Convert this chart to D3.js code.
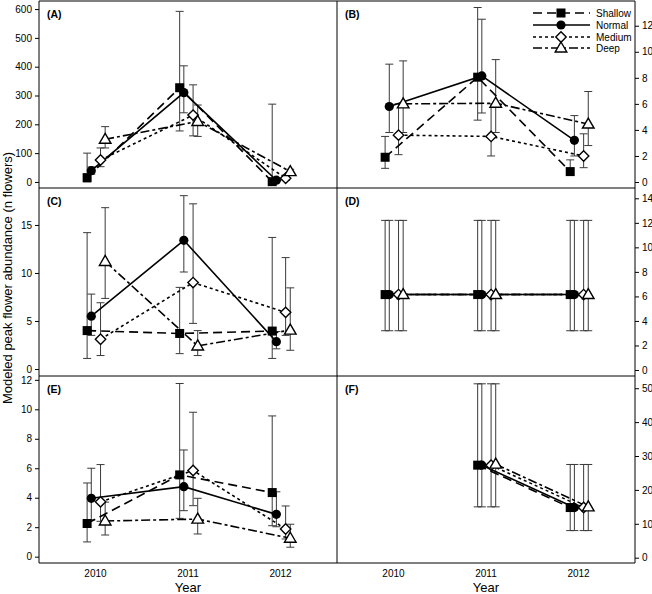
<!DOCTYPE html>
<html>
<head>
<meta charset="utf-8">
<script src="https://cdn.jsdelivr.net/npm/d3@7"></script>
<style>
  html, body { margin: 0; padding: 0; background: #fff; }
  text { font-family: "Liberation Sans", Arial, sans-serif; }
</style>
</head>
<body>
<script>
// ---------------- DATA ----------------
const years = [2010, 2011, 2012];
const seriesNames = ["Shallow", "Normal", "Medium", "Deep"];
const panelLabels = ["(A)", "(B)", "(C)", "(D)", "(E)", "(F)"];

// rows: Shallow, Normal, Medium, Deep ; columns: 2010, 2011, 2012
const aMean = [[15, 327, 1], [39, 310, 6], [76, 232, 13], [148, 210, 36]];
const aLow  = [[0, 177, 0], [27, 240, 2], [53, 160, 5], [118, 158, 26]];
const aHigh = [[100, 592, 270], [52, 403, 11], [118, 337, 24], [192, 267, 44]];

const bMean = [[1.9, 8.05, 0.8], [5.8, 8.15, 3.2], [3.6, 3.5, 2.0], [6.0, 6.05, 4.45]];
const bLow  = [[1.05, 4.75, 0.5], [3.8, 5.3, 2.0], [2.1, 2.0, 1.1], [3.8, 3.8, 2.8]];
const bHigh = [[3.5, 13.4, 1.7], [9.05, 12.5, 5.1], [6.0, 6.0, 3.7], [9.3, 9.4, 6.95]];

const cMean = [[4.0, 3.7, 3.95], [5.5, 13.4, 2.84], [3.1, 9.0, 5.9], [11.2, 2.4, 4.05]];
const cLow  = [[1.1, 1.6, 1.1], [3.5, 10.1, 2.1], [1.4, 4.75, 3.5], [7.35, 1.4, 1.95]];
const cHigh = [[14.2, 8.5, 13.7], [7.8, 18.05, 3.9], [6.9, 17.2, 11.6], [16.8, 4.0, 8.45]];

const dMean = [[6.15, 6.15, 6.15], [6.15, 6.15, 6.15], [6.15, 6.15, 6.15], [6.15, 6.15, 6.15]];
const dLow  = [[3.2, 3.2, 3.2], [3.2, 3.2, 3.2], [3.2, 3.2, 3.2], [3.2, 3.2, 3.2]];
const dHigh = [[12.2, 12.2, 12.2], [12.2, 12.2, 12.2], [12.2, 12.2, 12.2], [12.2, 12.2, 12.2]];

const eMean = [[2.25, 5.55, 4.35], [3.96, 4.75, 2.87], [3.72, 5.85, 1.88], [2.42, 2.55, 1.25]];
const eLow  = [[1.0, 2.6, 2.1], [2.5, 3.12, 2.03], [2.4, 3.46, 1.2], [1.47, 1.54, 0.64]];
const eHigh = [[5.0, 11.75, 9.55], [6.0, 7.24, 4.4], [6.25, 9.8, 3.44], [3.7, 3.96, 2.2]];

const fMean = [[null, 27.3, 14.8], [null, 27.3, 14.8], [null, 27.3, 14.8], [null, 27.6, 15.0]];
const fLow  = [[null, 15.0, 8.0], [null, 15.0, 8.0], [null, 15.0, 8.0], [null, 15.0, 8.0]];
const fHigh = [[null, 51.3, 27.5], [null, 51.3, 27.5], [null, 51.3, 27.5], [null, 51.3, 27.5]];

const aTicks = [0, 100, 200, 300, 400, 500, 600];
const bTicks = [0, 2, 4, 6, 8, 10, 12];
const cTicks = [0, 5, 10, 15];
const dTicks = [0, 2, 4, 6, 8, 10, 12, 14];
const eTicks = [0, 2, 4, 6, 8, 10, 12];
const fTicks = [0, 10, 20, 30, 40, 50];

// ---------------- LAYOUT ----------------
const W = 652, H = 594;
const colX = [[39, 337], [337, 635]];
const rowY = [[1, 188], [188, 376], [376, 563]];
const xDomain = [2009.39, 2012.61];
const offsets = [-0.09, -0.045, 0.055, 0.105];
const dashes = ["9,5", null, "3,3", "9,3,3,3"];

const panels = [
  { mean: aMean, low: aLow, high: aHigh, ticks: aTicks, dom: [-21, 628], col: 0, row: 0 },
  { mean: bMean, low: bLow, high: bHigh, ticks: bTicks, dom: [-0.46, 13.9], col: 1, row: 0 },
  { mean: cMean, low: cLow, high: cHigh, ticks: cTicks, dom: [-0.73, 18.85], col: 0, row: 1 },
  { mean: dMean, low: dLow, high: dHigh, ticks: dTicks, dom: [-0.49, 14.84], col: 1, row: 1 },
  { mean: eMean, low: eLow, high: eHigh, ticks: eTicks, dom: [-0.43, 12.26], col: 0, row: 2 },
  { mean: fMean, low: fLow, high: fHigh, ticks: fTicks, dom: [-1.56, 53.6], col: 1, row: 2 }
];

const svg = d3.select("body").append("svg").attr("width", W).attr("height", H);

function drawMarker(g, s, cx, cy) {
  if (s === 0) {
    g.append("rect").attr("x", cx - 4.5).attr("y", cy - 4.5).attr("width", 9).attr("height", 9)
      .attr("fill", "#000");
  } else if (s === 1) {
    g.append("circle").attr("cx", cx).attr("cy", cy).attr("r", 4.6).attr("fill", "#000");
  } else if (s === 2) {
    g.append("path").attr("d", `M${cx},${cy - 5.2}L${cx + 5.2},${cy}L${cx},${cy + 5.2}L${cx - 5.2},${cy}Z`)
      .attr("fill", "#fff").attr("stroke", "#000").attr("stroke-width", 1.4);
  } else {
    g.append("path").attr("d", `M${cx},${cy - 6}L${cx + 5.8},${cy + 4}L${cx - 5.8},${cy + 4}Z`)
      .attr("fill", "#fff").attr("stroke", "#000").attr("stroke-width", 1.4);
  }
}

panels.forEach((p, pi) => {
  const x = d3.scaleLinear().domain(xDomain).range(colX[p.col]);
  const y = d3.scaleLinear().domain(p.dom).range([rowY[p.row][1], rowY[p.row][0]]);
  const g = svg.append("g");

  // axis
  const axis = (p.col === 0 ? d3.axisLeft(y) : d3.axisRight(y))
    .tickValues(p.ticks).tickSize(4).tickPadding(3).tickFormat(d3.format("d"));
  const ag = g.append("g")
    .attr("transform", `translate(${p.col === 0 ? colX[0][0] : colX[1][1]},0)`)
    .call(axis);
  ag.select(".domain").remove();
  ag.selectAll("text").attr("font-size", 10).attr("fill", "#000")
    .style("font-family", "Liberation Sans, Arial, sans-serif");
  ag.selectAll("line").attr("stroke", "#000");

  // error bars
  const eb = g.append("g").attr("stroke", "#3a3a3a").attr("stroke-width", 1).attr("fill", "none");
  seriesNames.forEach((name, s) => {
    years.forEach((yr, i) => {
      const m = p.mean[s][i];
      if (m == null) return;
      const cx = x(yr + offsets[s]);
      const y1 = y(p.low[s][i]), y2 = y(p.high[s][i]);
      eb.append("line").attr("x1", cx).attr("x2", cx).attr("y1", y1).attr("y2", y2);
      eb.append("line").attr("x1", cx - 4).attr("x2", cx + 4).attr("y1", y1).attr("y2", y1);
      eb.append("line").attr("x1", cx - 4).attr("x2", cx + 4).attr("y1", y2).attr("y2", y2);
    });
  });

  // lines
  seriesNames.forEach((name, s) => {
    const pts = years.map((yr, i) => ({ yr: yr + offsets[s], v: p.mean[s][i] }));
    const line = d3.line().defined(d => d.v != null).x(d => x(d.yr)).y(d => y(d.v));
    g.append("path").datum(pts).attr("d", line)
      .attr("fill", "none").attr("stroke", "#000").attr("stroke-width", 1.6)
      .attr("stroke-dasharray", dashes[s]);
  });

  // markers
  seriesNames.forEach((name, s) => {
    years.forEach((yr, i) => {
      const m = p.mean[s][i];
      if (m == null) return;
      drawMarker(g, s, x(yr + offsets[s]), y(m));
    });
  });

  // panel label
  g.append("text").attr("x", colX[p.col][0] + 8).attr("y", rowY[p.row][0] + 17)
    .attr("font-size", 10.5).attr("font-weight", "bold").text(panelLabels[pi]);

  // x tick labels on bottom row
  if (p.row === 2) {
    years.forEach(yr => {
      g.append("text").attr("x", x(yr)).attr("y", 577).attr("text-anchor", "middle")
        .attr("font-size", 10).text(yr);
    });
    g.append("text").attr("x", (colX[p.col][0] + colX[p.col][1]) / 2).attr("y", 592)
      .attr("text-anchor", "middle").attr("font-size", 13).text("Year");
  }
});

// frame
const fr = svg.append("g").attr("stroke", "#000").attr("stroke-width", 1);
[39, 337, 635].forEach(xx => {
  fr.append("line").attr("x1", xx).attr("x2", xx).attr("y1", 1).attr("y2", 563);
});
[1, 188, 376, 563].forEach(yy => {
  fr.append("line").attr("x1", 39).attr("x2", 635).attr("y1", yy).attr("y2", yy);
});

// y-axis title
svg.append("text").attr("transform", "translate(12,278) rotate(-90)")
  .attr("text-anchor", "middle").attr("font-size", 13)
  .text("Modeled peak flower abundance (n flowers)");

// legend
const lg = svg.append("g");
const legY = [13, 25, 37, 48];
seriesNames.forEach((name, s) => {
  lg.append("line").attr("x1", 533).attr("x2", 590).attr("y1", legY[s]).attr("y2", legY[s])
    .attr("stroke", "#000").attr("stroke-width", 1.6).attr("stroke-dasharray", dashes[s]);
  drawMarker(lg, s, 561, legY[s]);
  lg.append("text").attr("x", 596).attr("y", legY[s] + 3.5).attr("font-size", 10).text(name);
});
</script>
</body>
</html>
